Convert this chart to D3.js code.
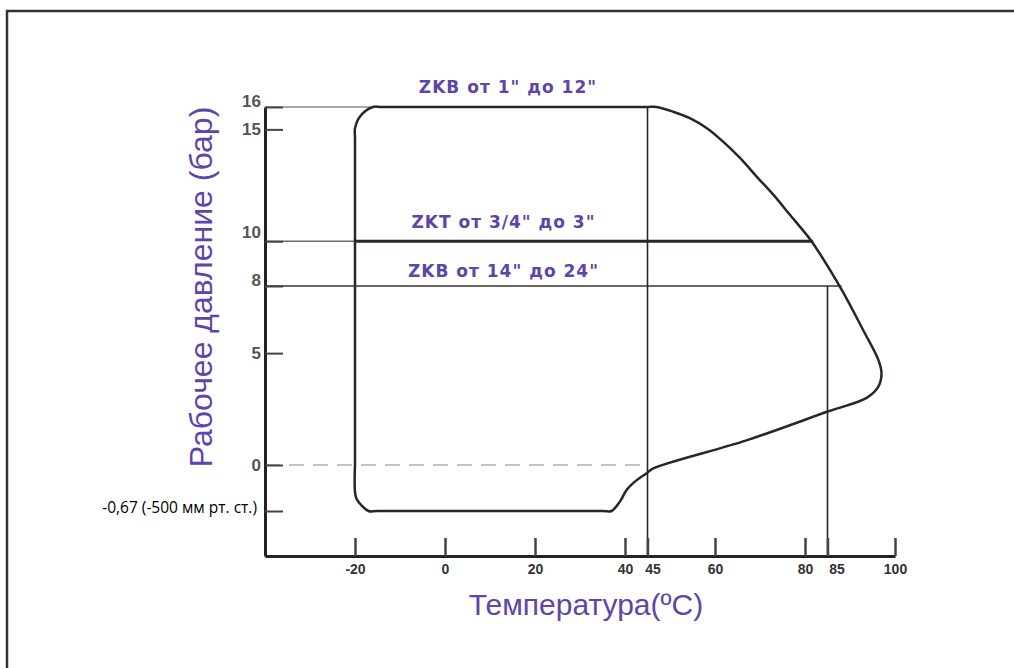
<!DOCTYPE html>
<html>
<head>
<meta charset="utf-8">
<script src="https://cdn.jsdelivr.net/npm/d3@7"></script>
<style>
  body { margin: 0; background: #fff; }
  svg { display: block; }
</style>
</head>
<body>
<svg id="chart" width="1014" height="668"></svg>
<script>
// axis ticks
const tempTicks = [-20, 0, 20, 40, 45, 60, 80, 85, 100];
const pressTicks = [16, 15, 10, 8, 5, 0, -0.67];
const vacuumLabel = '-0,67 (-500 мм рт. ст.)';

// envelope ZKB 1"-12" (temperature °C, pressure bar), traced clockwise
const envTemp = [-20, -20, -20, -18.8, -16, -14, 45, 47, 50.7, 54.4, 58.2, 61.8, 65.6, 69.3, 73, 76.7, 80.4, 81.8, 88.1, 93, 96.3, 97, 96.3, 93.7, 85.2, 67, 46.3, 44.8, 42.6, 40.4, 38.9, 37, 35, -15, -17, -19.6, -20, -20];
const envPress = [0, 14.6, 15.05, 15.6, 16, 16, 16, 16, 15.79, 15.5, 15.05, 14.45, 13.71, 12.88, 12.07, 11.17, 10.28, 9.9, 7.85, 6.0, 4.7, 4.1, 3.5, 3.0, 2.4, 1.1, -0.05, -0.12, -0.22, -0.36, -0.53, -0.67, -0.67, -0.67, -0.67, -0.5, -0.39, 0];

// series limits
const seriesNames = ['ZKB от 1" до 12"', 'ZKT от 3/4" до 3"', 'ZKB от 14" до 24"'];
const seriesPress = [16, 10, 8];
const seriesMaxTemp = [47, 81.8, 88.1];
const seriesVertTemp = [45, null, 85];

const svg = d3.select('#chart');
const purple = '#6045a8';

const x = d3.scaleLinear().domain([-40, 100]).range([265, 895]);
const y = d3.scaleLinear().domain([-2.6, -0.67, 0, 16]).range([556, 511, 465, 107]);

// frame
svg.append('path')
  .attr('d', 'M7,668 V11 H1014')
  .attr('fill', 'none')
  .attr('stroke', '#333')
  .attr('stroke-width', 2.5);

// zero line
svg.append('line')
  .attr('x1', x(-40)).attr('x2', x(45))
  .attr('y1', y(0)).attr('y2', y(0))
  .attr('stroke', '#b0b0b0')
  .attr('stroke-width', 1.5)
  .attr('stroke-dasharray', '15,9');

// horizontal limits from axis
svg.append('line')
  .attr('x1', x(-40)).attr('x2', x(-16))
  .attr('y1', y(16)).attr('y2', y(16))
  .attr('stroke', '#8a8a8a').attr('stroke-width', 1.5);
svg.append('line')
  .attr('x1', x(-40)).attr('x2', x(-20))
  .attr('y1', y(10)).attr('y2', y(10))
  .attr('stroke', '#6a6a6a').attr('stroke-width', 1.5);
svg.append('line')
  .attr('x1', x(-20)).attr('x2', x(seriesMaxTemp[1]))
  .attr('y1', y(10)).attr('y2', y(10))
  .attr('stroke', '#2a2622').attr('stroke-width', 3);
svg.append('line')
  .attr('x1', x(-40)).attr('x2', x(seriesMaxTemp[2]))
  .attr('y1', y(8)).attr('y2', y(8))
  .attr('stroke', '#3a3632').attr('stroke-width', 1.5);

// vertical limits
seriesVertTemp.forEach((t, i) => {
  if (t === null) return;
  svg.append('line')
    .attr('x1', x(t)).attr('x2', x(t))
    .attr('y1', y(seriesPress[i])).attr('y2', y(-2.6))
    .attr('stroke', '#2a2622').attr('stroke-width', 1.6);
});

// envelope
const env = envTemp.map((t, i) => [t, envPress[i]]);
const line = d3.line()
  .x(d => x(d[0]))
  .y(d => y(d[1]))
  .curve(d3.curveCatmullRom.alpha(0.5));
svg.append('path')
  .datum(env)
  .attr('d', line)
  .attr('fill', 'none')
  .attr('stroke', '#2b2622')
  .attr('stroke-width', 2.5);

// y axis
const labelShift = { 16: -6, 10: -9, 8: -6 };
const yAxis = d3.axisLeft(y)
  .tickValues(pressTicks)
  .tickSizeInner(-18)
  .tickSizeOuter(0)
  .tickPadding(4)
  .tickFormat(d => d === -0.67 ? vacuumLabel : String(d));
const gy = svg.append('g')
  .attr('transform', `translate(${x(-40)},0)`)
  .call(yAxis);
gy.select('.domain').attr('stroke', '#222').attr('stroke-width', 3);
gy.selectAll('.tick line').attr('stroke', '#444').attr('stroke-width', 2);
gy.selectAll('.tick text')
  .attr('fill', '#555')
  .style('font', 'bold 17px Arial, "Liberation Sans", sans-serif')
  .attr('y', d => labelShift[d] || 0);
gy.selectAll('.tick text').filter(d => d === -0.67)
  .attr('fill', '#000')
  .attr('x', -8)
  .attr('y', -3)
  .style('font', '15.5px "Open Sans", sans-serif');

// x axis
const xShift = { 45: 5, 85: 9 };
const xAxis = d3.axisBottom(x)
  .tickValues(tempTicks)
  .tickSizeInner(-18)
  .tickSizeOuter(0)
  .tickPadding(8)
  .tickFormat(d => String(d));
const gx = svg.append('g')
  .attr('transform', `translate(0,${y(-2.6)})`)
  .call(xAxis);
gx.select('.domain').attr('stroke', '#222').attr('stroke-width', 3);
gx.selectAll('.tick line').attr('stroke', '#444').attr('stroke-width', 2.5);
gx.selectAll('.tick text')
  .attr('fill', '#333')
  .attr('x', d => xShift[d] || 0)
  .style('font', 'bold 14px Arial, "Liberation Sans", sans-serif');

// series labels
const titleShift = [-14, -13, -9];
const titleTemp = [14, 13, 13];
seriesNames.forEach((name, i) => {
  svg.append('text')
    .attr('x', x(titleTemp[i]))
    .attr('y', y(seriesPress[i]) + titleShift[i])
    .attr('text-anchor', 'middle')
    .attr('fill', purple)
    .style('font', 'bold 17px "DejaVu Sans", sans-serif')
    .style('letter-spacing', '1px')
    .text(name);
});

// axis titles
svg.append('text')
  .attr('transform', 'translate(212,287) rotate(-90)')
  .attr('text-anchor', 'middle')
  .attr('fill', purple)
  .style('font', '32px Arial, "Liberation Sans", sans-serif')
  .text('Рабочее давление (бар)');
svg.append('text')
  .attr('x', 586)
  .attr('y', 615)
  .attr('text-anchor', 'middle')
  .attr('fill', purple)
  .style('font', '30px Arial, "Liberation Sans", sans-serif')
  .text('Температура(ºC)');
</script>
</body>
</html>
